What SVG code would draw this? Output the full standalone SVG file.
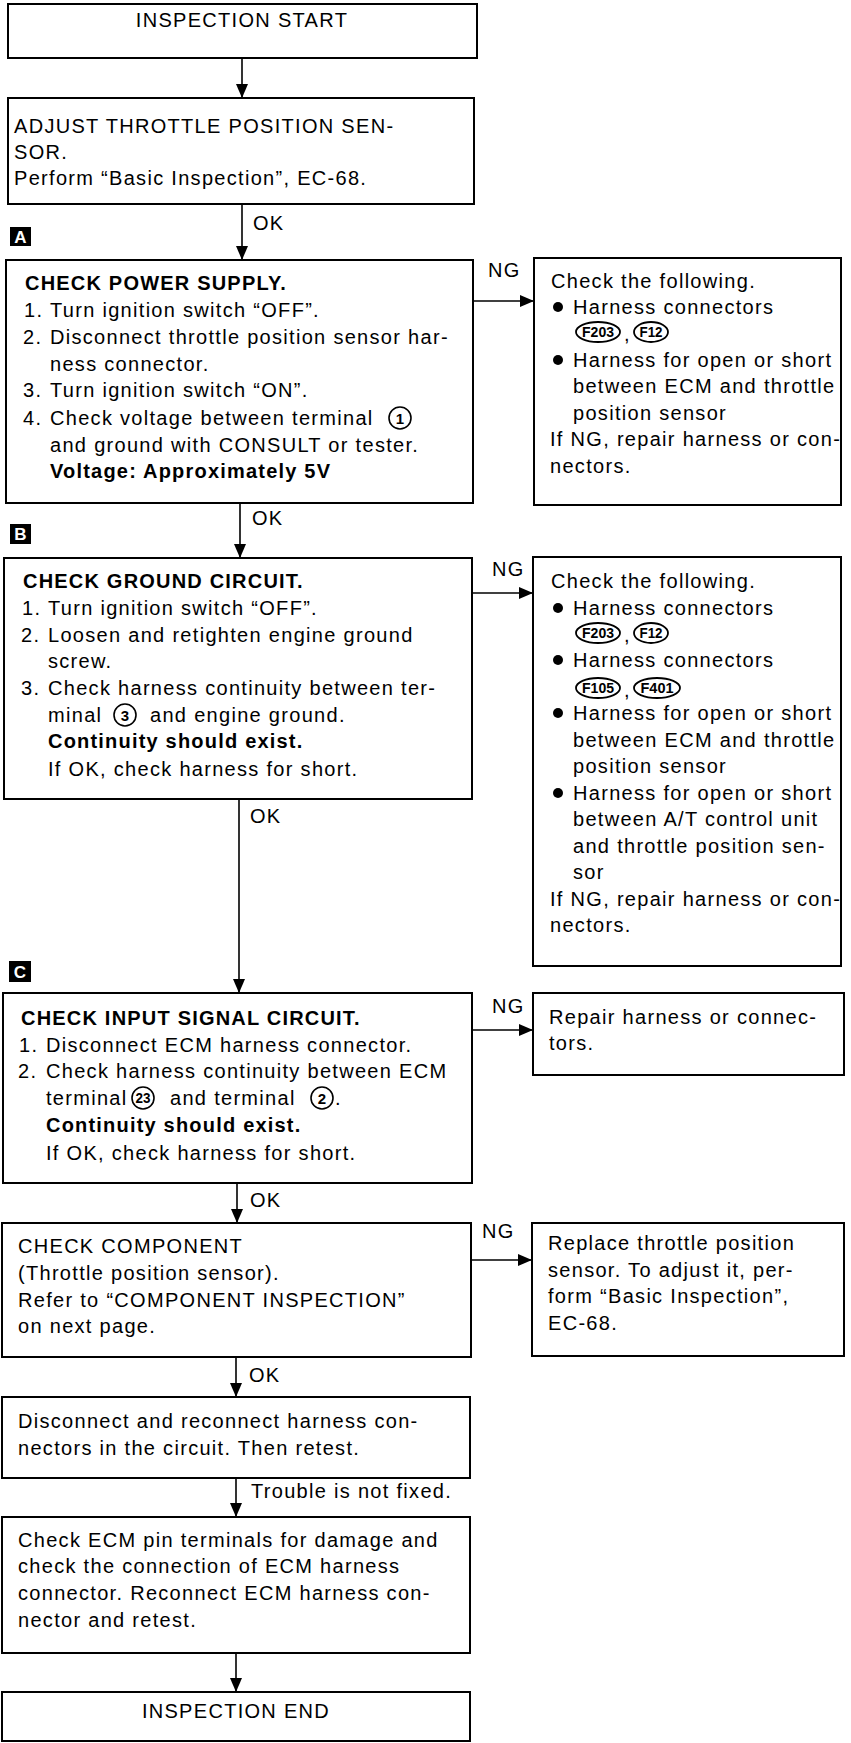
<svg xmlns="http://www.w3.org/2000/svg" width="851" height="1743" viewBox="0 0 851 1743">
  <defs>
    <marker id="arrow" viewBox="0 0 14 12" refX="14" refY="6" markerWidth="14" markerHeight="12" markerUnits="userSpaceOnUse" orient="auto">
      <path d="M0,0 L14,6 L0,12 z" fill="#000"/>
    </marker>
    <style>
      .box { fill: #fff; stroke: #000; stroke-width: 2; }
      .t { font-family: "Liberation Sans", Arial, sans-serif; font-size: 20px; letter-spacing: 1.3px; fill: #000; }
      .b { font-weight: bold; letter-spacing: 1.2px; }
      .mid { text-anchor: middle; }
      .conn line { stroke: #000; stroke-width: 1.6; fill: none; }
      .arr { marker-end: url(#arrow); }
      .badge rect { fill: #000; }
      .badge text { font-family: "Liberation Sans", Arial, sans-serif; font-size: 17px; font-weight: bold; fill: #fff; text-anchor: middle; }
      .num circle { fill: #fff; stroke: #000; stroke-width: 1.6; }
      .num text { font-family: "Liberation Sans", Arial, sans-serif; font-size: 15px; font-weight: bold; text-anchor: middle; fill: #000; }
      .cn ellipse { fill: #fff; stroke: #000; stroke-width: 1.8; }
      .cn text { font-family: "Liberation Sans", Arial, sans-serif; font-size: 14px; font-weight: bold; text-anchor: middle; fill: #000; }
      .dot { fill: #000; }
    </style>
  </defs>
  <rect width="851" height="1743" fill="#fff"/>

  <!-- connectors -->
  <g id="connectors" class="conn">
    <line class="arr" x1="242" y1="58" x2="242" y2="98"/>
    <line class="arr" x1="242" y1="204" x2="242" y2="260"/>
    <line class="arr" x1="240" y1="503" x2="240" y2="558"/>
    <line class="arr" x1="239" y1="799" x2="239" y2="993"/>
    <line class="arr" x1="237" y1="1183" x2="237" y2="1223"/>
    <line class="arr" x1="236" y1="1357" x2="236" y2="1397"/>
    <line class="arr" x1="236" y1="1478" x2="236" y2="1517"/>
    <line class="arr" x1="236" y1="1653" x2="236" y2="1692"/>
    <line class="arr" x1="473" y1="301" x2="534" y2="301"/>
    <line class="arr" x1="472" y1="593" x2="533" y2="593"/>
    <line class="arr" x1="472" y1="1030" x2="533" y2="1030"/>
    <line class="arr" x1="471" y1="1260" x2="532" y2="1260"/>
  </g>

  <!-- connector labels -->
  <g id="labels" class="t">
    <text x="253" y="230">OK</text>
    <text x="252" y="525">OK</text>
    <text x="250" y="823">OK</text>
    <text x="250" y="1207">OK</text>
    <text x="249" y="1382">OK</text>
    <text x="251" y="1498">Trouble is not fixed.</text>
    <text x="488" y="277">NG</text>
    <text x="492" y="576">NG</text>
    <text x="492" y="1013">NG</text>
    <text x="482" y="1238">NG</text>
  </g>

  <!-- step badges -->
  <g id="badge-a" class="badge"><rect x="10" y="227" width="21" height="19"/><text x="20.5" y="243">A</text></g>
  <g id="badge-b" class="badge"><rect x="10" y="524" width="21" height="20"/><text x="20.5" y="540">B</text></g>
  <g id="badge-c" class="badge"><rect x="9" y="961" width="22" height="21"/><text x="20" y="978">C</text></g>

  <g id="start">
    <rect class="box" x="8" y="4" width="469" height="54"/>
    <text class="t mid" x="242" y="27">INSPECTION START</text>
  </g>

  <g id="adjust">
    <rect class="box" x="8" y="98" width="466" height="106"/>
    <text class="t" x="14" y="133">ADJUST THROTTLE POSITION SEN-</text>
    <text class="t" x="14" y="159">SOR.</text>
    <text class="t" x="14" y="185">Perform “Basic Inspection”, EC-68.</text>
  </g>

  <g id="power-supply">
    <rect class="box" x="6" y="260" width="467" height="243"/>
    <text class="t b" x="25" y="290">CHECK POWER SUPPLY.</text>
    <text class="t" x="24" y="317">1.</text><text class="t" x="50" y="317">Turn ignition switch “OFF”.</text>
    <text class="t" x="23" y="344">2.</text><text class="t" x="50" y="344">Disconnect throttle position sensor har-</text>
    <text class="t" x="50" y="371">ness connector.</text>
    <text class="t" x="23" y="397">3.</text><text class="t" x="50" y="397">Turn ignition switch “ON”.</text>
    <text class="t" x="23" y="425">4.</text><text class="t" x="50" y="425">Check voltage between terminal</text>
    <g class="num"><circle cx="400" cy="418" r="11"/><text x="400" y="423.5">1</text></g>
    <text class="t" x="50" y="452">and ground with CONSULT or tester.</text>
    <text class="t b" x="50" y="478">Voltage: Approximately 5V</text>
  </g>

  <g id="ng-power">
    <rect class="box" x="534" y="258" width="307" height="247"/>
    <text class="t" x="551" y="288">Check the following.</text>
    <circle class="dot" cx="558" cy="307" r="5"/>
    <text class="t" x="573" y="314">Harness connectors</text>
    <g class="cn"><ellipse cx="598" cy="332" rx="22" ry="10"/><text x="598" y="337" textLength="32" lengthAdjust="spacingAndGlyphs">F203</text></g>
    <text class="t" x="624" y="341">,</text>
    <g class="cn"><ellipse cx="651" cy="332" rx="17" ry="10"/><text x="651" y="337" textLength="23" lengthAdjust="spacingAndGlyphs">F12</text></g>
    <circle class="dot" cx="558" cy="360" r="5"/>
    <text class="t" x="573" y="367">Harness for open or short</text>
    <text class="t" x="573" y="393">between ECM and throttle</text>
    <text class="t" x="573" y="420">position sensor</text>
    <text class="t" x="550" y="446">If NG, repair harness or con-</text>
    <text class="t" x="550" y="473">nectors.</text>
  </g>

  <g id="ground-circuit">
    <rect class="box" x="4" y="558" width="468" height="241"/>
    <text class="t b" x="23" y="588">CHECK GROUND CIRCUIT.</text>
    <text class="t" x="22" y="615">1.</text><text class="t" x="48" y="615">Turn ignition switch “OFF”.</text>
    <text class="t" x="21" y="642">2.</text><text class="t" x="48" y="642">Loosen and retighten engine ground</text>
    <text class="t" x="48" y="668">screw.</text>
    <text class="t" x="21" y="695">3.</text><text class="t" x="48" y="695">Check harness continuity between ter-</text>
    <text class="t" x="48" y="722">minal</text>
    <g class="num"><circle cx="125" cy="715" r="11"/><text x="125" y="720.5">3</text></g>
    <text class="t" x="150" y="722">and engine ground.</text>
    <text class="t b" x="48" y="748">Continuity should exist.</text>
    <text class="t" x="48" y="776">If OK, check harness for short.</text>
  </g>

  <g id="ng-ground">
    <rect class="box" x="533" y="557" width="308" height="409"/>
    <text class="t" x="551" y="588">Check the following.</text>
    <circle class="dot" cx="558" cy="608" r="5"/>
    <text class="t" x="573" y="615">Harness connectors</text>
    <g class="cn"><ellipse cx="598" cy="633" rx="22" ry="10"/><text x="598" y="638" textLength="32" lengthAdjust="spacingAndGlyphs">F203</text></g>
    <text class="t" x="624" y="642">,</text>
    <g class="cn"><ellipse cx="651" cy="633" rx="17" ry="10"/><text x="651" y="638" textLength="23" lengthAdjust="spacingAndGlyphs">F12</text></g>
    <circle class="dot" cx="558" cy="660" r="5"/>
    <text class="t" x="573" y="667">Harness connectors</text>
    <g class="cn"><ellipse cx="598" cy="688" rx="22" ry="10"/><text x="598" y="693" textLength="32" lengthAdjust="spacingAndGlyphs">F105</text></g>
    <text class="t" x="624" y="697">,</text>
    <g class="cn"><ellipse cx="657" cy="688" rx="23" ry="10"/><text x="657" y="693" textLength="33" lengthAdjust="spacingAndGlyphs">F401</text></g>
    <circle class="dot" cx="558" cy="713" r="5"/>
    <text class="t" x="573" y="720">Harness for open or short</text>
    <text class="t" x="573" y="747">between ECM and throttle</text>
    <text class="t" x="573" y="773">position sensor</text>
    <circle class="dot" cx="558" cy="793" r="5"/>
    <text class="t" x="573" y="800">Harness for open or short</text>
    <text class="t" x="573" y="826">between A/T control unit</text>
    <text class="t" x="573" y="853">and throttle position sen-</text>
    <text class="t" x="573" y="879">sor</text>
    <text class="t" x="550" y="906">If NG, repair harness or con-</text>
    <text class="t" x="550" y="932">nectors.</text>
  </g>

  <g id="input-signal">
    <rect class="box" x="3" y="993" width="469" height="190"/>
    <text class="t b" x="21" y="1025">CHECK INPUT SIGNAL CIRCUIT.</text>
    <text class="t" x="19" y="1052">1.</text><text class="t" x="46" y="1052">Disconnect ECM harness connector.</text>
    <text class="t" x="18" y="1078">2.</text><text class="t" x="46" y="1078">Check harness continuity between ECM</text>
    <text class="t" x="46" y="1105">terminal</text>
    <g class="num"><circle cx="143" cy="1098" r="11"/><text x="143" y="1103" textLength="15" lengthAdjust="spacingAndGlyphs">23</text></g>
    <text class="t" x="170" y="1105">and terminal</text>
    <g class="num"><circle cx="322" cy="1098" r="11"/><text x="322" y="1103.5">2</text></g>
    <text class="t" x="335" y="1105">.</text>
    <text class="t b" x="46" y="1132">Continuity should exist.</text>
    <text class="t" x="46" y="1160">If OK, check harness for short.</text>
  </g>

  <g id="ng-input">
    <rect class="box" x="533" y="993" width="311" height="82"/>
    <text class="t" x="549" y="1024">Repair harness or connec-</text>
    <text class="t" x="549" y="1050">tors.</text>
  </g>

  <g id="component">
    <rect class="box" x="2" y="1223" width="469" height="134"/>
    <text class="t" x="18" y="1253">CHECK COMPONENT</text>
    <text class="t" x="18" y="1280">(Throttle position sensor).</text>
    <text class="t" x="18" y="1307">Refer to “COMPONENT INSPECTION”</text>
    <text class="t" x="18" y="1333">on next page.</text>
  </g>

  <g id="ng-component">
    <rect class="box" x="532" y="1223" width="312" height="133"/>
    <text class="t" x="548" y="1250">Replace throttle position</text>
    <text class="t" x="548" y="1277">sensor. To adjust it, per-</text>
    <text class="t" x="548" y="1303">form “Basic Inspection”,</text>
    <text class="t" x="548" y="1330">EC-68.</text>
  </g>

  <g id="reconnect">
    <rect class="box" x="2" y="1397" width="468" height="81"/>
    <text class="t" x="18" y="1428">Disconnect and reconnect harness con-</text>
    <text class="t" x="18" y="1455">nectors in the circuit. Then retest.</text>
  </g>

  <g id="ecm-pins">
    <rect class="box" x="2" y="1517" width="468" height="136"/>
    <text class="t" x="18" y="1547">Check ECM pin terminals for damage and</text>
    <text class="t" x="18" y="1573">check the connection of ECM harness</text>
    <text class="t" x="18" y="1600">connector. Reconnect ECM harness con-</text>
    <text class="t" x="18" y="1627">nector and retest.</text>
  </g>

  <g id="end">
    <rect class="box" x="2" y="1692" width="468" height="49"/>
    <text class="t mid" x="236" y="1718">INSPECTION END</text>
  </g>
</svg>
